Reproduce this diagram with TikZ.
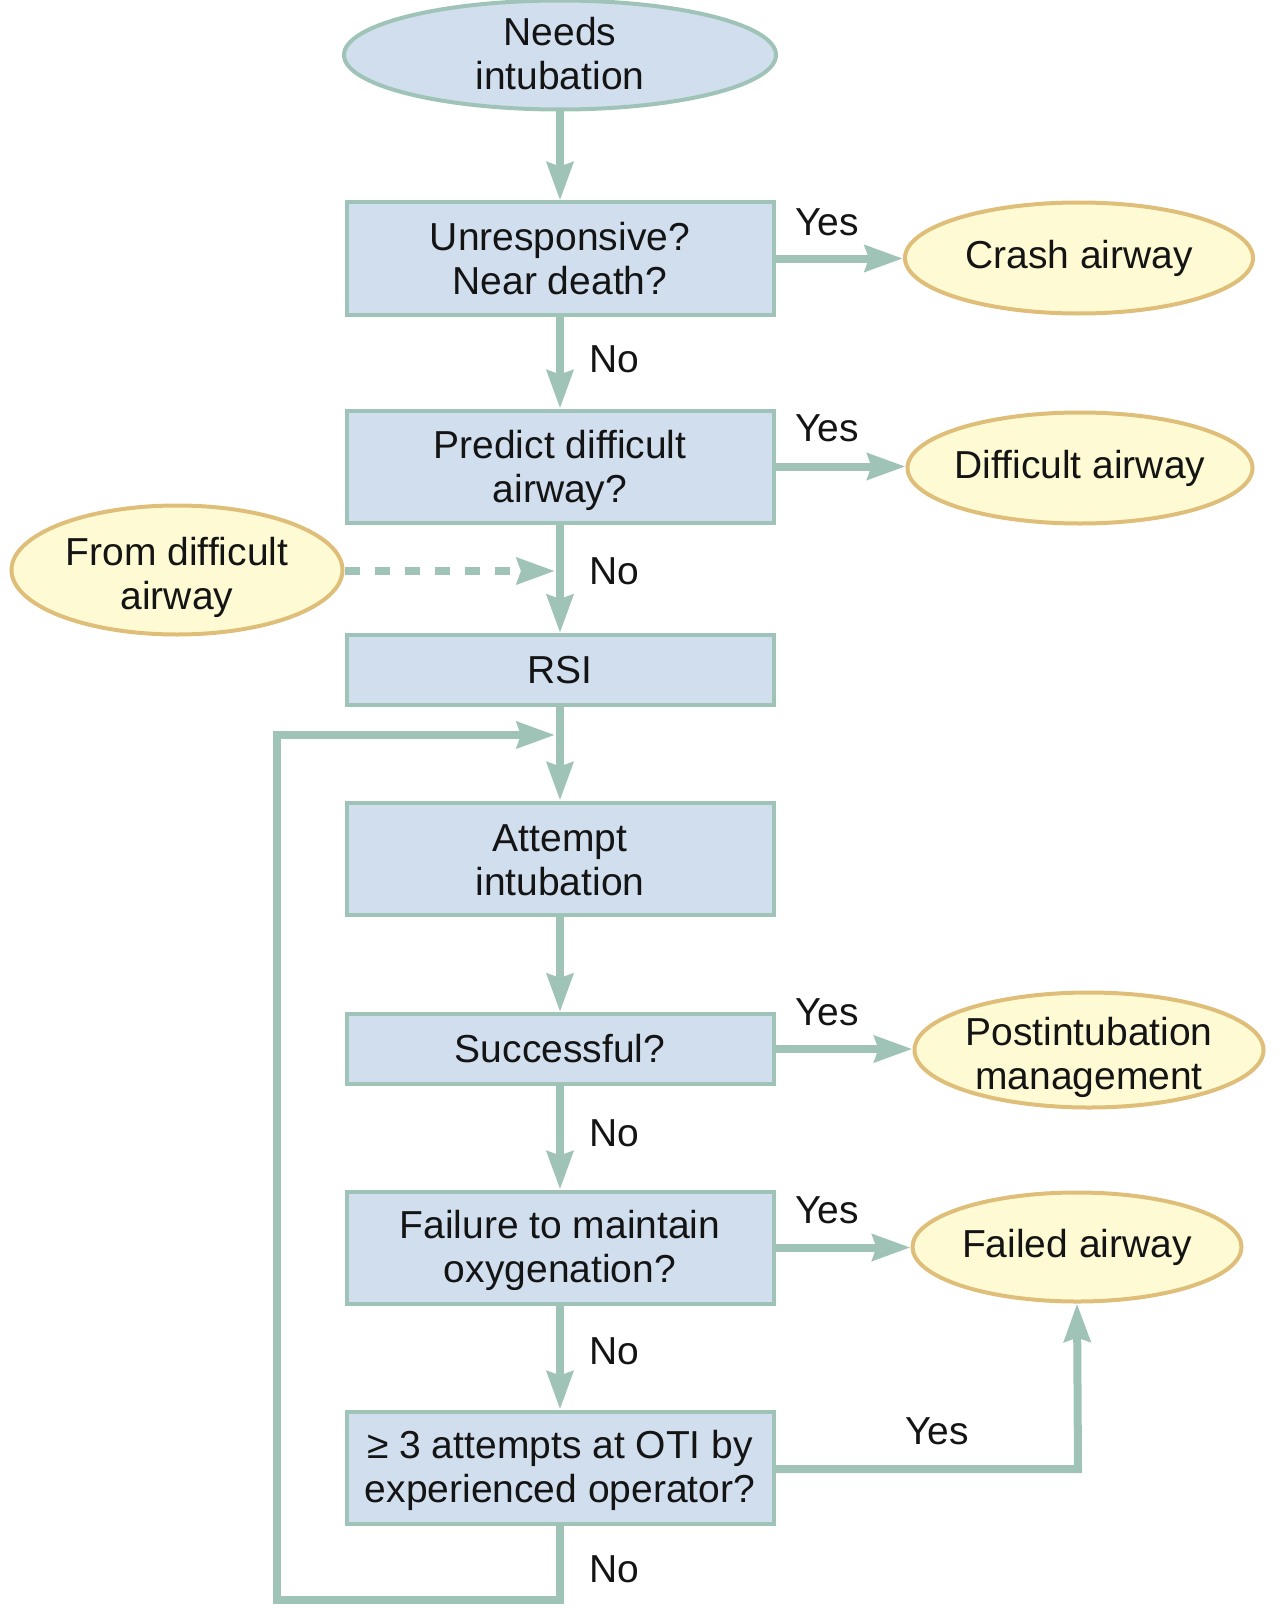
\documentclass[tikz,border=0pt]{standalone}
\usepackage{fontspec}
\setmainfont{Liberation Sans}
\usetikzlibrary{arrows.meta,shapes.geometric}
\definecolor{lncol}{RGB}{159,196,183}
\definecolor{boxfill}{RGB}{208,222,238}
\definecolor{yelfill}{RGB}{254,251,212}
\definecolor{yelline}{RGB}{223,190,122}
\definecolor{txtcol}{RGB}{20,20,20}
\newcommand{\myendstrut}{\rule[-8pt]{0pt}{8pt}}
\newcommand{\mytop}[1]{\rule{0pt}{#1}}
\begin{document}
\begin{tikzpicture}[x=1pt,y=-1pt,
  every node/.style={font=\fontsize{39}{44}\selectfont, text=txtcol, align=center},
  stepbox/.style={rectangle, draw=lncol, fill=boxfill, line width=4pt, minimum width=427pt, minimum height=#1, inner sep=0pt},
  stepbox/.default=112pt,
  blueell/.style={ellipse, draw=lncol, fill=boxfill, line width=4pt, inner sep=-15pt},
  yelell/.style={ellipse, draw=yelline, fill=yelfill, line width=4pt, inner sep=-15pt},
  conn/.style={draw=lncol, line width=8pt, -{Stealth[length=38pt,width=26pt,inset=4pt]}},
  lbl/.style={inner sep=0pt}
]
\useasboundingbox (0,0) rectangle (1278,1608);

% main column
\node[blueell, minimum width=432pt, minimum height=109pt] (needs) at (560,55) {\mytop{33pt}Needs\\intubation\myendstrut};
\node[stepbox] (b1) at (560,258.5) {\mytop{36pt}Unresponsive?\\Near death?\myendstrut};
\node[stepbox] (b2) at (560,466.5) {\mytop{37pt}Predict difficult\\airway?\myendstrut};
\node[stepbox=70pt] (rsi) at (560,670) {RSI};
\node[stepbox] (att) at (560,858.5) {\mytop{37pt}Attempt\\intubation\myendstrut};
\node[stepbox=70pt] (succ) at (560,1049) {Successful?};
\node[stepbox] (fail) at (560,1247.5) {\mytop{34pt}Failure to maintain\\oxygenation?\myendstrut};
\node[stepbox] (three) at (560,1467.5) {\mytop{35pt}≥ 3 attempts at OTI by\\experienced operator?\myendstrut};

% side ellipses
\node[yelell, minimum width=348pt, minimum height=111pt] (crash) at (1079,258) {Crash airway};
\node[yelell, minimum width=345pt, minimum height=111pt] (diff) at (1080,468) {Difficult airway};
\node[yelell, minimum width=331pt, minimum height=129pt] (from) at (177,570) {\mytop{43pt}From difficult\\airway\myendstrut};
\node[yelell, minimum width=349pt, minimum height=115pt] (post) at (1089,1050) {\mytop{43pt}Postintubation\\management\myendstrut};
\node[yelell, minimum width=329pt, minimum height=109pt] (failed) at (1077,1247) {Failed airway};

% coordinates for free ends
\coordinate (dend) at (555,571);
\coordinate (loopa) at (560,1600);
\coordinate (loopb) at (277,1600);
\coordinate (loopc) at (277,735);
\coordinate (loopd) at (555,735);
\coordinate (ycorner) at (1078,1469);

% connectors
\draw[conn] (needs) -- (b1);
\draw[conn] (b1) -- (b2);
\draw[conn] (b2) -- (rsi);
\draw[conn] (rsi) -- (att);
\draw[conn] (att) -- (succ);
\draw[conn] (succ) -- (fail);
\draw[conn] (fail) -- (three);

\draw[conn] (b1.east) -- (b1.east -| crash.west);
\draw[conn] (b2.east) -- (b2.east -| diff.west);
\draw[conn] (succ.east) -- (succ.east -| post.west);
\draw[conn] (fail.east) -- (fail.east -| failed.west);
\draw[conn] (three.east |- ycorner) -- (ycorner) -- (failed.south);

\draw[conn, dash pattern=on 15pt off 15pt] (from.east |- dend) -- (dend);
\draw[conn] (three.south) -- (loopa) -- (loopb) -- (loopc) -- (loopd);

% labels
\node[lbl] (y1) at (827,222) {Yes};
\node[lbl] (n1) at (614,359) {No};
\node[lbl] (y2) at (827,428) {Yes};
\node[lbl] (n2) at (614,571) {No};
\node[lbl] (y3) at (827,1012) {Yes};
\node[lbl] (n3) at (614,1133) {No};
\node[lbl] (y4) at (827,1210) {Yes};
\node[lbl] (n4) at (614,1351) {No};
\node[lbl] (y5) at (937,1431) {Yes};
\node[lbl] (n5) at (614,1569) {No};
\end{tikzpicture}
\end{document}
